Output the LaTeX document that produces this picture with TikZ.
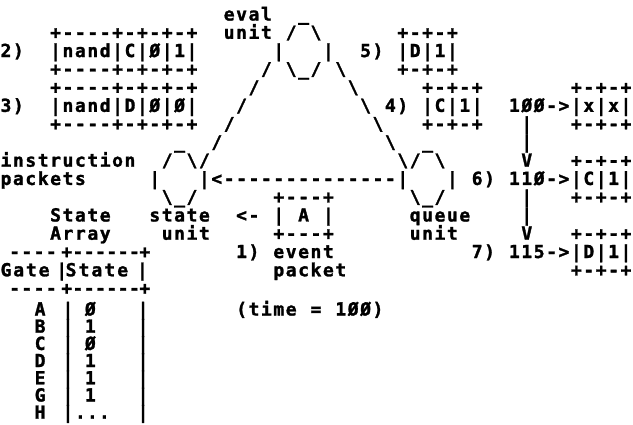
\documentclass[tikz,border=0pt]{standalone}
\usepackage{fontspec}
\newfontfamily\dotmono{DejaVu Sans Mono}[BoldFeatures={FakeBold=1.5}]
\tikzset{ch/.style={inner sep=0pt, outer sep=0pt, anchor=base, text=black,
  font=\dotmono\bfseries\fontsize{18pt}{20pt}\selectfont}}
\ExplSyntaxOn
\int_new:N \l_rk_i_int
\tl_new:N \l_rk_x_tl
\tl_new:N \l_rk_y_tl
\tl_new:N \l_rk_name_tl
% \seg[pitch]{row}{column}{text}
\NewDocumentCommand \seg { O{12.4} m m v }
  {
    \int_zero:N \l_rk_i_int
    \tl_set:Nx \l_rk_y_tl
      { \fp_eval:n { 5.5 + ( (#2) < 16 ? 15 + 18.27 * (#2) : 310 + 17.2 * ( (#2) - 16 ) ) } }
    \str_map_inline:nn { #4 }
      {
        \str_if_eq:nnF { ##1 } { ~ }
          {
            \tl_set:Nx \l_rk_x_tl { \fp_eval:n { 6 + 12.4 * (#3) + (#1) * \l_rk_i_int } }
            \tl_set:Nx \l_rk_name_tl { r#2c\fp_eval:n { round( 10 * (#3) + 10 * \l_rk_i_int ) } }
            \node [ch] (\l_rk_name_tl) at (\l_rk_x_tl, \l_rk_y_tl) {##1};
          }
        \int_incr:N \l_rk_i_int
      }
  }
\ExplSyntaxOff
\begin{document}
\begin{tikzpicture}[x=1pt,y=-1pt]
\fill[white] (0,0) rectangle (633,424);
\path[use as bounding box] (0,0) rectangle (633,424);
% row 0
\seg{0}{18}{eval}
\seg{0}{24}{_}
% row 1
\seg{1}{4}{+----+-+-+-+}
\seg{1}{18}{unit}
\seg{1}{23}{/}
\seg{1}{25}{\}
\seg{1}{32}{+-+-+}
% row 2
\seg{2}{0}{2)}
\seg{2}{4}{|nand|C|Ø|1|}
\seg{2}{22}{|}
\seg{2}{26}{|}
\seg{2}{29}{5)}
\seg{2}{32}{|D|1|}
% row 3
\seg{3}{4}{+----+-+-+-+}
\seg{3}{21}{/ \_/ \}
\seg{3}{32}{+-+-+}
% row 4
\seg{4}{4}{+----+-+-+-+}
\seg{4}{20}{/}
\seg{4}{28}{\}
\seg{4}{34}{+-+-+}
\seg{4}{46}{+-+-+}
% row 5
\seg{5}{0}{3)}
\seg{5}{4}{|nand|D|Ø|Ø|}
\seg{5}{19}{/}
\seg{5}{29}{\}
\seg{5}{31}{4)}
\seg{5}{34}{|C|1|}
\seg{5}{41}{1ØØ->|x|x|}
% row 6
\seg{6}{4}{+----+-+-+-+}
\seg{6}{18}{/}
\seg{6}{30}{\}
\seg{6}{34}{+-+-+}
\seg{6}{42}{|}
\seg{6}{46}{+-+-+}
% row 7
\seg{7}{14}{_}
\seg{7}{17}{/}
\seg{7}{31}{\}
\seg{7}{34}{_}
\seg{7}{42}{|}
% row 8
\seg{8}{0}{instruction}
\seg{8}{13}{/ \/}
\seg{8}{32}{\/ \}
\seg{8}{42}{V}
\seg{8}{46}{+-+-+}
% row 9
\seg{9}{0}{packets}
\seg{9}{12}{|}
\seg{9}{16}{|<--------------|}
\seg{9}{36}{|}
\seg{9}{38}{6)}
\seg{9}{41}{11Ø->|C|1|}
% row 10
\seg{10}{13}{\_/}
\seg{10}{22}{+---+}
\seg{10}{33}{\_/}
\seg{10}{42}{|}
\seg{10}{46}{+-+-+}
% row 11
\seg{11}{4}{State}
\seg{11}{12}{state}
\seg{11}{19}{<-}
\seg{11}{22}{| A |}
\seg{11}{33}{queue}
\seg{11}{42}{|}
% row 12
\seg{12}{4}{Array}
\seg{12}{13}{unit}
\seg{12}{22}{+---+}
\seg{12}{33}{unit}
\seg{12}{42}{V}
\seg{12}{46}{+-+-+}
% row 13
\seg[12.2]{13}{0.7}{----}
\seg{13}{4.9}{+}
\seg[11.3]{13}{5.8}{------}
\seg{13}{11.2}{+}
\seg{13}{19}{1)}
\seg{13}{22}{event}
\seg{13}{38}{7)}
\seg{13}{41}{115->|D|1|}
% row 14
\seg[12.7]{14}{0}{Gate}
\seg{14}{4.5}{|}
\seg[12.9]{14}{5.25}{State}
\seg{14}{11}{|}
\seg{14}{22}{packet}
\seg{14}{46}{+-+-+}
% row 15
\seg[12.2]{15}{0.7}{----}
\seg{15}{4.9}{+}
\seg[11.3]{15}{5.8}{------}
\seg{15}{11.2}{+}
% rows 16-22
\seg{16}{2.75}{A}
\seg{16}{19}{(time = 1ØØ)}
\seg{17}{2.75}{B}
\seg{18}{2.75}{C}
\seg{19}{2.75}{D}
\seg{20}{2.75}{E}
\seg{21}{2.75}{G}
\seg{22}{2.75}{H}
\seg{16}{6.8}{Ø}
\seg{17}{6.8}{1}
\seg{18}{6.8}{Ø}
\seg{19}{6.8}{1}
\seg{20}{6.8}{1}
\seg{21}{6.8}{1}
\seg[12]{22}{6}{...}
\seg{16}{5}{|}
\seg{17}{5}{|}
\seg{18}{5}{|}
\seg{19}{5}{|}
\seg{20}{5}{|}
\seg{21}{5}{|}
\seg{22}{5}{|}
\seg{16}{11.05}{|}
\seg{17}{11.05}{|}
\seg{18}{11.05}{|}
\seg{19}{11.05}{|}
\seg{20}{11.05}{|}
\seg{21}{11.05}{|}
\seg{22}{11.05}{|}
\end{tikzpicture}
\end{document}
